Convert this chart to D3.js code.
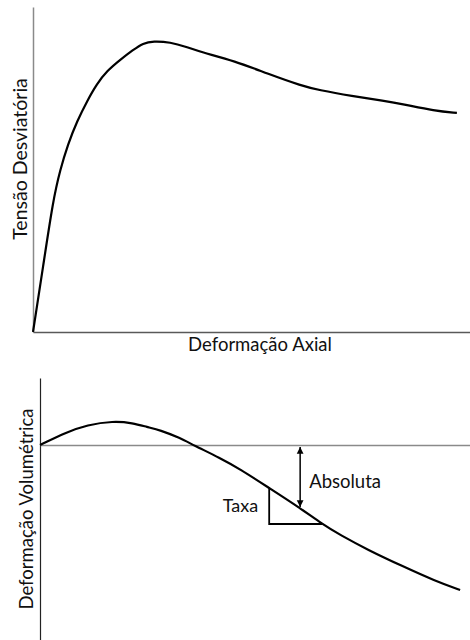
<!DOCTYPE html>
<html>
<head>
<meta charset="utf-8">
<script src="https://cdn.jsdelivr.net/npm/d3@7"></script>
<style>
  html, body { margin: 0; padding: 0; background: #fff; }
  svg { display: block; }
  text { font-family: Lato, "Open Sans", sans-serif; fill: #111; }
</style>
</head>
<body>
<script>
// Stress–strain curve (deviator stress vs axial strain), arbitrary units
const strainAxial = [0, 2.3, 4.6, 6.2, 8.0, 10.1, 12.4, 14.6, 16.9, 19.9, 22.9, 25.2, 27.5, 31.4, 35.2, 38.2, 46.2, 53.8, 61.6, 65.2, 73.0, 80.5, 84.4, 92.0, 97.0];
const deviatorStress = [0, 20, 40.6, 49.8, 57.8, 64.9, 71.1, 76.3, 80.3, 83.7, 86.8, 88.9, 89.5, 89.2, 87.7, 86.2, 83.4, 79.4, 75.7, 74.5, 72.6, 71.1, 70.2, 68.0, 67.4];

// Volumetric strain vs axial strain (dilatancy curve)
const strainAxial2 = [0, 6.3, 10.9, 17.0, 21.6, 24.9, 27.9, 32.6, 35.6, 41.9, 46.5, 53.3, 60.5, 65.6, 69.8, 76.3, 84.2, 91.9, 97.7];
const volumetricStrain = [0, 0.65, 1.0, 1.2, 1.1, 0.9, 0.75, 0.35, 0, -0.65, -1.2, -2.15, -3.15, -3.95, -4.5, -5.25, -6.05, -6.8, -7.25];

// Rate triangle (tangent slope) and absolute-value arrow
const rateX = [53.3, 65.6];
const rateY = [-2.15, -3.95];
const absX = 60.5;
const absY = [0, -3.15];

// Labels
const xLabelTop = "Deformação Axial";
const yLabelTop = "Tensão Desviatória";
const yLabelBottom = "Deformação Volumétrica";
const rateLabel = "Taxa";
const absLabel = "Absoluta";

const W = 470, H = 640;
const svg = d3.select("body").append("svg").attr("width", W).attr("height", H);

// ---------- top panel ----------
const x1 = d3.scaleLinear().domain([0, 100]).range([33, 470]);
const y1 = d3.scaleLinear().domain([0, 100]).range([332, 7]);

const gx1 = svg.append("g").attr("transform", `translate(0,${y1(0)})`)
  .call(d3.axisBottom(x1).tickValues([]).tickSizeOuter(0));
gx1.select(".domain").attr("stroke", "#595959").attr("stroke-width", 1.5);

const gy1 = svg.append("g").attr("transform", `translate(${x1(0)},0)`)
  .call(d3.axisLeft(y1).tickValues([]).tickSizeOuter(0));
gy1.select(".domain").attr("stroke", "#8a8a8a").attr("stroke-width", 1.5);

const line1 = d3.line()
  .x((d, i) => x1(strainAxial[i]))
  .y((d, i) => y1(deviatorStress[i]))
  .curve(d3.curveBasis);

svg.append("path").datum(deviatorStress)
  .attr("d", line1).attr("fill", "none")
  .attr("stroke", "#000").attr("stroke-width", 2.2)
  .attr("stroke-linejoin", "round");

svg.append("text").attr("x", 260).attr("y", 351)
  .attr("text-anchor", "middle").attr("font-size", 18.5).text(xLabelTop);

svg.append("text").attr("transform", "translate(27,159) rotate(-90)")
  .attr("text-anchor", "middle").attr("font-size", 19.5).text(yLabelTop);

// ---------- bottom panel ----------
const x2 = d3.scaleLinear().domain([0, 100]).range([40, 470]);
const y2 = d3.scaleLinear().domain([-9.75, 3.35]).range([640, 378]);

const gy2 = svg.append("g").attr("transform", `translate(${x2(0)},0)`)
  .call(d3.axisLeft(y2).tickValues([]).tickSizeOuter(0));
gy2.select(".domain").attr("stroke", "#222").attr("stroke-width", 1.2);

const gx2 = svg.append("g").attr("transform", `translate(0,${y2(0)})`)
  .call(d3.axisBottom(x2).tickValues([]).tickSizeOuter(0));
gx2.select(".domain").attr("stroke", "#8a8a8a").attr("stroke-width", 1.5);

const line2 = d3.line()
  .x((d, i) => x2(strainAxial2[i]))
  .y((d, i) => y2(volumetricStrain[i]))
  .curve(d3.curveBasis);

svg.append("path").datum(volumetricStrain)
  .attr("d", line2).attr("fill", "none")
  .attr("stroke", "#000").attr("stroke-width", 2.2)
  .attr("stroke-linejoin", "round");

// rate triangle
const tri = [[rateX[0], rateY[0]], [rateX[0], rateY[1]], [rateX[1], rateY[1]]];
svg.append("path")
  .attr("d", d3.line().x(d => x2(d[0])).y(d => y2(d[1]))(tri))
  .attr("fill", "none").attr("stroke", "#000").attr("stroke-width", 1.8);

// double-headed arrow
const defs = svg.append("defs");
["start", "end"].forEach(k => {
  defs.append("marker").attr("id", "ah-" + k)
    .attr("viewBox", "0 0 10 10").attr("refX", 10).attr("refY", 5)
    .attr("markerWidth", 4.5).attr("markerHeight", 5.5)
    .attr("markerUnits", "strokeWidth")
    .attr("orient", k === "start" ? "auto-start-reverse" : "auto")
    .append("path").attr("d", "M0,0 L10,5 L0,10 Z").attr("fill", "#000");
});
svg.append("line")
  .attr("x1", x2(absX)).attr("x2", x2(absX))
  .attr("y1", y2(absY[0]) + 2).attr("y2", y2(absY[1]) - 1)
  .attr("stroke", "#000").attr("stroke-width", 1.5)
  .attr("marker-start", "url(#ah-start)").attr("marker-end", "url(#ah-end)");

svg.append("text").attr("x", x2(absX) + 9).attr("y", 488)
  .attr("font-size", 18.5).text(absLabel);
svg.append("text").attr("x", x2(rateX[0]) - 11).attr("y", 512)
  .attr("text-anchor", "end").attr("font-size", 18).text(rateLabel);

svg.append("text").attr("transform", "translate(33,509) rotate(-90)")
  .attr("text-anchor", "middle").attr("font-size", 18.5).text(yLabelBottom);
</script>
</body>
</html>
